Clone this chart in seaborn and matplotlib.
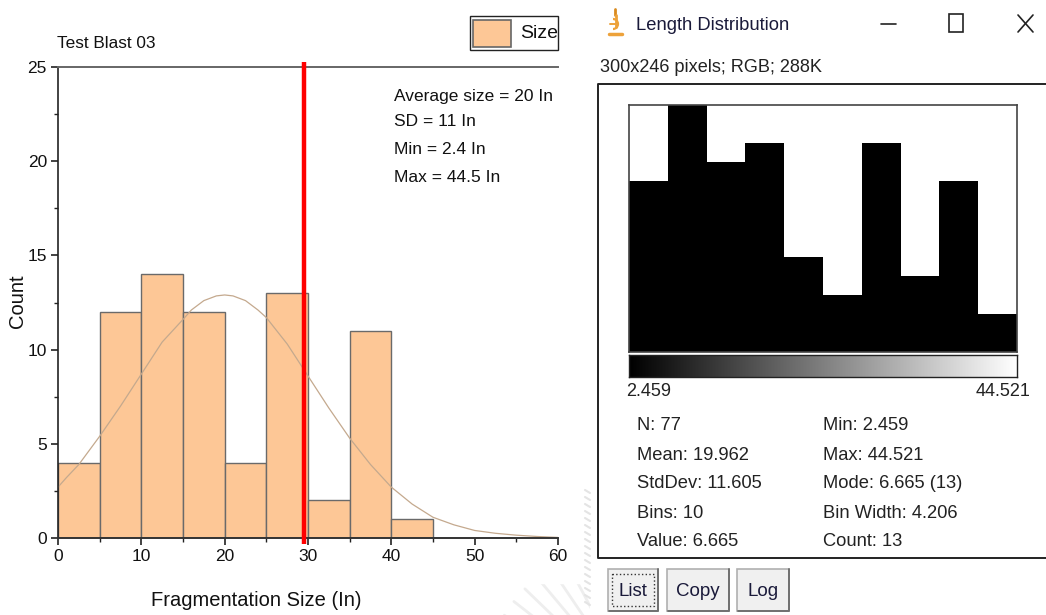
# Fragmentation histogram next to the ImageJ length distribution window
import numpy as np
import matplotlib
matplotlib.use('Agg')
import matplotlib.pyplot as plt
import seaborn as sns
from matplotlib.patches import Rectangle, Circle

# left histogram
size_edges = [0, 5, 10, 15, 20, 25, 30, 35, 40, 45]
size_centers = [2.5, 7.5, 12.5, 17.5, 22.5, 27.5, 32.5, 37.5, 42.5]
size_counts = [4, 12, 14, 12, 4, 13, 2, 11, 1]

# fitted curve
curve_x = [0, 1, 2.5, 4, 5, 7.5, 10, 12.5, 15, 16, 17.5, 19, 20, 21, 22.5, 24, 25, 27.5, 30, 32.5, 35,
           37.5, 40, 42.5, 45, 47.5, 50, 52.5, 55, 57.5, 60]
curve_y = [2.7, 3.2, 3.9, 4.8, 5.4, 7.0, 8.7, 10.4, 11.6, 12.1, 12.6, 12.85, 12.9, 12.85, 12.6, 12.1, 11.7, 10.3, 8.6, 6.9, 5.3,
           3.9, 2.7, 1.8, 1.1, 0.7, 0.4, 0.25, 0.15, 0.08, 0.03]
mean_line = 29.5

# ImageJ histogram
len_edges = [2.459, 6.665, 10.871, 15.077, 19.283, 23.489, 27.695, 31.901, 36.107, 40.313, 44.519]
len_centers = [4.562, 8.768, 12.974, 17.18, 21.386, 25.592, 29.798, 34.004, 38.21, 42.416]
len_counts = [9, 13, 10, 11, 5, 3, 11, 4, 9, 2]

stats_text = ['Average size = 20 In', 'SD = 11 In', 'Min = 2.4 In', 'Max = 44.5 In']
left_stats = ['N: 77', 'Mean: 19.962', 'StdDev: 11.605', 'Bins: 10', 'Value: 6.665']
right_stats = ['Min: 2.459', 'Max: 44.521', 'Mode: 6.665 (13)', 'Bin Width: 4.206', 'Count: 13']

W, H = 1046, 615
peach = '#fdc796'

sns.set_style('ticks')
plt.rcParams['font.family'] = ['Liberation Sans', 'DejaVu Sans']

fig = plt.figure(figsize=(W / 100, H / 100), dpi=100, facecolor='white')


def px_axes(left, top, right, bottom):
    return fig.add_axes([left / W, 1 - bottom / H, (right - left) / W, (bottom - top) / H])


# left chart
ax = px_axes(58, 67, 558, 538)
sns.histplot(x=size_centers, weights=size_counts, bins=size_edges, color=peach, alpha=1,
             edgecolor='#6a6a6a', linewidth=1, ax=ax)
sns.lineplot(x=curve_x, y=curve_y, color='#c4a98e', linewidth=0.9, ax=ax)
ax.plot([mean_line, mean_line], [-0.3, 25.25], color='#ff0000', linewidth=3.2,
        solid_capstyle='butt', clip_on=False, zorder=5)
ax.set_xlim(0, 60)
ax.set_ylim(0, 25)
ax.set_xticks([0, 10, 20, 30, 40, 50, 60])
ax.set_xticks([5, 15, 25, 35, 45, 55], minor=True)
ax.set_yticks([0, 5, 10, 15, 20, 25])
ax.set_yticks([2.5, 7.5, 12.5, 17.5, 22.5], minor=True)
ax.tick_params(axis='both', which='major', length=5, width=1.2, labelsize=12.5, pad=3, color='#222222',
               labelcolor='#111111')
ax.tick_params(axis='both', which='minor', length=3, width=1, color='#222222')
ax.set_xlabel('')
ax.set_ylabel('')
sns.despine(ax=ax, right=True, top=False)
ax.spines['top'].set_color('#666666')
ax.spines['top'].set_linewidth(1.4)
ax.spines['left'].set_linewidth(1.2)
ax.spines['bottom'].set_linewidth(1.4)
ax.spines['left'].set_color('#222222')
ax.spines['bottom'].set_color('#333333')

# right histogram
ax2 = px_axes(629, 105, 1017, 352)
sns.histplot(x=len_centers, weights=len_counts, bins=len_edges, color='black', alpha=1,
             edgecolor='black', linewidth=0, ax=ax2)
ax2.set_xlim(len_edges[0], len_edges[-1])
ax2.set_ylim(0, 13)
ax2.set_xticks([])
ax2.set_yticks([])
ax2.set_xlabel('')
ax2.set_ylabel('')
for s in ax2.spines.values():
    s.set_color('#444444')
    s.set_linewidth(1.2)

# grey ramp
ax3 = px_axes(629, 355, 1017, 377)
ax3.imshow(np.linspace(0, 1, 256)[None, :], cmap='gray', aspect='auto', interpolation='bilinear')
ax3.set_xticks([])
ax3.set_yticks([])
for s in ax3.spines.values():
    s.set_color('#222222')
    s.set_linewidth(1)

# overlay in pixel coordinates for window parts and text
ov = fig.add_axes([0, 0, 1, 1], zorder=-1)
ov.set_xlim(0, W)
ov.set_ylim(H, 0)
ov.axis('off')
top = fig.add_axes([0, 0, 1, 1], zorder=10)
top.set_xlim(0, W)
top.set_ylim(H, 0)
top.axis('off')
top.patch.set_alpha(0)

# faint watermark behind the screenshot
for a in [8, 14, 20, 26, 32, 38, 44, 50, 56, 62]:
    t = np.deg2rad(a)
    ov.plot([640, 640 - 160 * np.cos(t)], [700, 700 - 160 * np.sin(t)], color='#eeeeee', linewidth=2)
ov.add_patch(Rectangle((0, 0), 590, 583, color='white', zorder=3))
ov.add_patch(Rectangle((590, 0), 456, 615, color='white', zorder=3))
for y0 in range(490, 606, 7):
    ov.plot([585, 590], [y0, y0 + 3], color='#e4e4e4', linewidth=1.5, zorder=4)

# left chart labels
top.text(57, 43, 'Test Blast 03', fontsize=12.4, va='center', ha='left', color='#111111')
top.text(18, 301, 'Count', fontsize=14.5, va='center', ha='center', rotation=90, color='#111111')
top.text(256, 601, 'Fragmentation Size (In)', fontsize=14.5, va='center', ha='center', color='#111111')
for label, y in zip(stats_text, [96, 122, 149, 177]):
    top.text(394, y, label, fontsize=12.5, va='center', ha='left', color='#111111')

# legend box
top.add_patch(Rectangle((470, 16), 88, 34, facecolor='white', edgecolor='#222222', linewidth=1))
top.add_patch(Rectangle((473, 20), 38, 27, facecolor=peach, edgecolor='#666666', linewidth=1.2))
top.text(520, 33, 'Size', fontsize=14, va='center', ha='left', color='#111111')

# window title bar with the small microscope icon
top.plot([615, 615], [9, 15], color='#d98a1e', linewidth=2)
top.add_patch(Circle((613, 24), 5, facecolor='none', edgecolor='#eda23a', linewidth=1.6))
top.add_patch(Rectangle((606, 18), 7, 13, facecolor='white', edgecolor='none'))
top.plot([616, 616], [15, 27], color='#eda23a', linewidth=2)
top.plot([610, 618], [24, 24], color='#eda23a', linewidth=1.4)
top.plot([609, 622], [34, 34], color='#eda23a', linewidth=2.5)
top.text(636, 26, 'Length Distribution', fontsize=13.2, va='center', ha='left', color='#1a1a3a')
top.plot([881, 896], [24, 24], color='#222222', linewidth=1.2)
top.add_patch(Rectangle((949, 14), 14, 18, facecolor='none', edgecolor='#222222', linewidth=1.2))
top.plot([1018, 1033], [15, 32], color='#222222', linewidth=1.2)
top.plot([1018, 1033], [32, 15], color='#222222', linewidth=1.2)
top.text(600, 68, '300x246 pixels; RGB; 288K', fontsize=13.1, va='center', ha='left', color='#222222')

# image frame goes out to the right edge
top.plot([1047, 598, 598, 1047], [84, 84, 558, 558], color='#222222', linewidth=1.4)

# ramp ends
top.text(626, 392, '2.459', fontsize=13, va='center', ha='left', color='#222222')
top.text(1031, 392, '44.521', fontsize=13, va='center', ha='right', color='#222222')

for label, y in zip(left_stats, [426, 455, 484, 513, 541]):
    top.text(637, y, label, fontsize=13.2, va='center', ha='left', color='#222222')
for label, y in zip(right_stats, [426, 455, 484, 513, 541]):
    top.text(823, y, label, fontsize=13.2, va='center', ha='left', color='#222222')

# buttons
for label, x0, x1 in [('List', 608, 658), ('Copy', 667, 729), ('Log', 737, 789)]:
    top.add_patch(Rectangle((x0, 569), x1 - x0, 42, facecolor='#f0f0f0', edgecolor='#b0b0b0', linewidth=1.2))
    top.plot([x0 + 1, x1, x1], [611, 611, 569], color='#707070', linewidth=1.4)
    top.text((x0 + x1) / 2, 591, label, fontsize=13.5, va='center', ha='center', color='#1a1a3a')
top.add_patch(Rectangle((612, 574), 42, 32, facecolor='none', edgecolor='#333333', linewidth=1, linestyle=':'))

fig.savefig('out.png', dpi=100)
